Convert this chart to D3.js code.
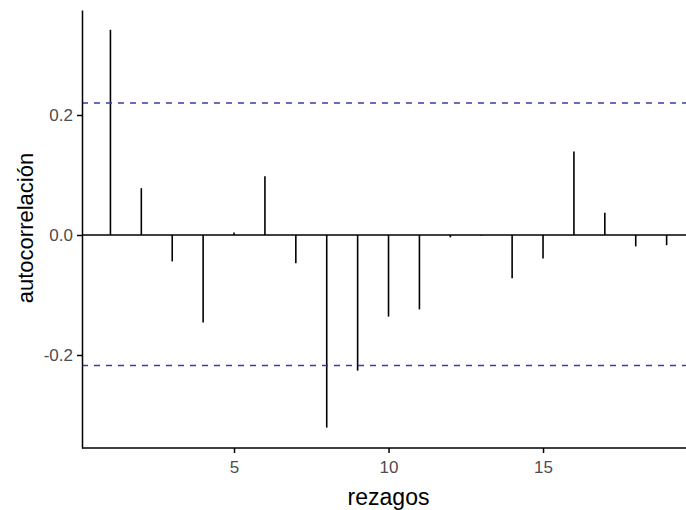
<!DOCTYPE html>
<html>
<head>
<meta charset="utf-8">
<script src="https://cdn.jsdelivr.net/npm/d3@7"></script>
<style>
  body { margin: 0; background: #fff; }
  svg { display: block; font-family: "Liberation Sans", Arial, sans-serif; }
  .tick line, .domain { stroke: #000; stroke-width: 1.5; }
</style>
</head>
<body>
<div id="graph"></div>
<script>
// acf values by lag
const lags = [1,2,3,4,5,6,7,8,9,10,11,12,13,14,15,16,17,18,19];
const acf = [0.342, 0.078, -0.044, -0.146, 0.004, 0.098, -0.047, -0.321, -0.226, -0.136,
             -0.124, -0.004, -0.001, -0.072, -0.039, 0.139, 0.037, -0.019, -0.017];
const ci = [0.2198, -0.2175];
const xticks = [5, 10, 15];
const yticks = [-0.2, 0.0, 0.2];

const w = 686, h = 510;
const padding_left = 82, padding_top = 10, padding_bottom = 62;

const svg = d3.select('#graph').append('svg')
  .attr('width', w)
  .attr('height', h);

const xScale = d3.scaleLinear()
  .domain([0.08, 19.92])
  .range([padding_left, padding_left + 19.84 * 30.9]);
const yScale = d3.scaleLinear()
  .domain([-0.355, 0.375])
  .range([h - padding_bottom, padding_top]);

// bars
svg.selectAll('line.bar')
  .data(lags)
  .enter()
  .append('line')
  .attr('class', 'bar')
  .attr('x1', d => xScale(d))
  .attr('x2', d => xScale(d))
  .attr('y1', yScale(0))
  .attr('y2', (d, i) => yScale(acf[i]))
  .attr('stroke', '#000')
  .attr('stroke-width', 1.6);

// zero line
svg.append('line')
  .attr('x1', padding_left).attr('x2', w)
  .attr('y1', yScale(0)).attr('y2', yScale(0))
  .attr('stroke', '#000').attr('stroke-width', 1.5);

// confidence lines
svg.selectAll('line.ci')
  .data(ci)
  .enter()
  .append('line')
  .attr('class', 'ci')
  .attr('x1', padding_left).attr('x2', w)
  .attr('y1', d => yScale(d)).attr('y2', d => yScale(d))
  .attr('stroke', '#3c3ca6')
  .attr('stroke-width', 1.5)
  .attr('stroke-dasharray', '6,6');

//x-Axis
svg.append('g')
  .attr('transform', 'translate(0,' + (h - padding_bottom) + ')')
  .call(d3.axisBottom(xScale).tickValues(xticks).tickSize(5).tickPadding(8).tickSizeOuter(0))
  .call(g => g.select('.domain').attr('d', 'M' + padding_left + ',0H' + w));

//y-Axis
svg.append('g')
  .attr('transform', 'translate(' + padding_left + ',0)')
  .call(d3.axisLeft(yScale).tickValues(yticks)
    .tickFormat(d => d.toFixed(1).replace('\u2212', '-'))
    .tickSize(5).tickPadding(4).tickSizeOuter(0));

svg.selectAll('.tick text')
  .attr('font-family', null)
  .style('font-size', '17px')
  .style('fill', '#4d4d4d');

//x-label
svg.append('text')
  .text('rezagos')
  .attr('x', xScale(10))
  .attr('y', 505)
  .attr('text-anchor', 'middle')
  .style('font-size', '23px')
  .attr('fill', '#000');

//y-label
svg.append('text')
  .text('autocorrelación')
  .attr('transform', 'translate(33,' + 228 + ') rotate(-90)')
  .attr('text-anchor', 'middle')
  .style('font-size', '22px')
  .attr('fill', '#000');
</script>
</body>
</html>
